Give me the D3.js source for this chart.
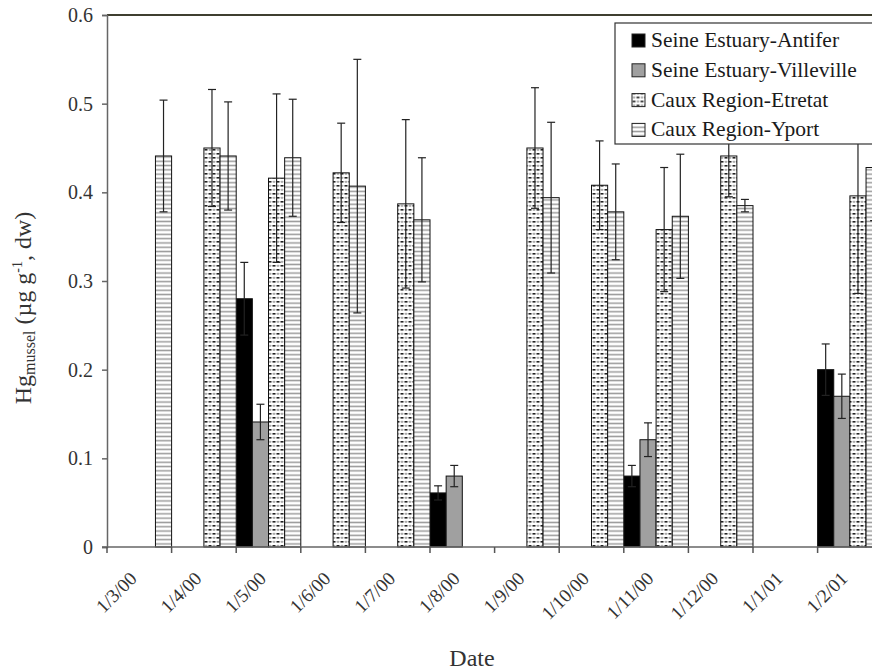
<!DOCTYPE html>
<html>
<head>
<meta charset="utf-8">
<script src="https://cdn.jsdelivr.net/npm/d3@7"></script>
<style>
  body { margin: 0; background: #fff; }
  svg { display: block; font-family: "Liberation Serif", "Times New Roman", serif; }
</style>
</head>
<body>
<div id="container"></div>
<script>
// data
let months = ["1/3/00", "1/4/00", "1/5/00", "1/6/00", "1/7/00", "1/8/00", "1/9/00", "1/10/00", "1/11/00", "1/12/00", "1/1/01", "1/2/01"];
let seriesNames = ["Seine Estuary-Antifer", "Seine Estuary-Villeville", "Caux Region-Etretat", "Caux Region-Yport"];

let antifer    = [null, null, 0.280, null, null, 0.061, null, null, 0.080, null, null, 0.200];
let antiferSd  = [null, null, 0.041, null, null, 0.008, null, null, 0.012, null, null, 0.029];
let villeville   = [null, null, 0.141, null, null, 0.080, null, null, 0.121, null, null, 0.170];
let villevilleSd = [null, null, 0.020, null, null, 0.012, null, null, 0.019, null, null, 0.025];
let etretat   = [null, 0.450, 0.416, 0.422, 0.387, null, 0.450, 0.408, 0.358, 0.441, null, 0.396];
let etretatSd = [null, 0.066, 0.095, 0.056, 0.095, null, 0.068, 0.050, 0.070, 0.046, null, 0.110];
let yport   = [0.441, 0.441, 0.439, 0.407, 0.369, null, 0.394, 0.378, 0.373, 0.385, null, 0.428];
let yportSd = [0.063, 0.061, 0.066, 0.143, 0.070, null, 0.085, 0.054, 0.070, 0.007, null, 0.060];

let yTicks = [0, 0.1, 0.2, 0.3, 0.4, 0.5, 0.6];

let w = 872;
let h = 672;
let padLeft = 107, padTop = 15, padBottom = 547;
let plotRight = padLeft + 12 * 64.6;   // the plot runs past the right edge of the picture

let viz = d3.select("#container").append("svg")
    .attr("width", w)
    .attr("height", h)
;

// patterns for the two Caux series
let defs = viz.append("defs");
let dots = defs.append("pattern")
    .attr("id", "dots")
    .attr("patternUnits", "userSpaceOnUse")
    .attr("width", 8).attr("height", 8)
;
dots.append("rect").attr("width", 8).attr("height", 8).attr("fill", "#fff");
dots.append("rect").attr("x", 0.5).attr("y", 1).attr("width", 3).attr("height", 1.6).attr("fill", "#222");
dots.append("rect").attr("x", 4.5).attr("y", 5).attr("width", 3).attr("height", 1.6).attr("fill", "#222");
dots.append("ellipse").attr("cx", 6).attr("cy", 1.8).attr("rx", 1.6).attr("ry", 1.1).attr("fill", "#aaa");
dots.append("ellipse").attr("cx", 2).attr("cy", 5.8).attr("rx", 1.6).attr("ry", 1.1).attr("fill", "#aaa");

let lines = defs.append("pattern")
    .attr("id", "hlines")
    .attr("patternUnits", "userSpaceOnUse")
    .attr("width", 8).attr("height", 4.3)
;
lines.append("rect").attr("width", 8).attr("height", 4.3).attr("fill", "#fff");
lines.append("rect").attr("y", 1.4).attr("width", 8).attr("height", 1.5).attr("fill", "#9a9a9a");

let fills = ["#000", "#a0a0a0", "url(#dots)", "url(#hlines)"];

let series = [
  {name: seriesNames[0], vals: antifer, sd: antiferSd},
  {name: seriesNames[1], vals: villeville, sd: villevilleSd},
  {name: seriesNames[2], vals: etretat, sd: etretatSd},
  {name: seriesNames[3], vals: yport, sd: yportSd}
];

// scales
let x = d3.scaleBand().domain(months).range([padLeft, plotRight]).padding(0);
let xSub = d3.scaleBand().domain(seriesNames).range([0, x.bandwidth()]).padding(0);
let y = d3.scaleLinear().domain([0, 0.6]).range([padBottom, padTop]);

// flatten to one record per bar
let bars = [];
series.forEach(function(s, si) {
  months.forEach(function(m, mi) {
    if (s.vals[mi] != null) {
      bars.push({month: m, name: s.name, si: si, v: s.vals[mi], sd: s.sd[mi]});
    }
  });
});

// top frame line
viz.append("line")
    .attr("x1", padLeft).attr("x2", w)
    .attr("y1", padTop).attr("y2", padTop)
    .attr("stroke", "#3f3f30")
    .attr("stroke-width", 2)
;

let barGroup = viz.append("g").attr("class", "bars");
barGroup.selectAll("rect").data(bars).enter()
  .append("rect")
    .attr("x", function(d) { return x(d.month) + xSub(d.name); })
    .attr("y", function(d) { return y(d.v); })
    .attr("width", xSub.bandwidth())
    .attr("height", function(d) { return y(0) - y(d.v); })
    .attr("fill", function(d) { return fills[d.si]; })
    .attr("stroke", "#111")
    .attr("stroke-width", 1)
;

// error bars, capped at both ends
let errGroup = viz.append("g").attr("class", "errors").attr("stroke", "#222").attr("stroke-width", 1.2);
let errs = errGroup.selectAll("g").data(bars).enter().append("g");
let cx = function(d) { return x(d.month) + xSub(d.name) + xSub.bandwidth() / 2; };
errs.append("line")
    .attr("x1", cx).attr("x2", cx)
    .attr("y1", function(d) { return y(d.v + d.sd); })
    .attr("y2", function(d) { return y(d.v - d.sd); })
;
errs.append("line")
    .attr("x1", function(d) { return cx(d) - 4; }).attr("x2", function(d) { return cx(d) + 4; })
    .attr("y1", function(d) { return y(d.v + d.sd); })
    .attr("y2", function(d) { return y(d.v + d.sd); })
;
errs.append("line")
    .attr("x1", function(d) { return cx(d) - 4; }).attr("x2", function(d) { return cx(d) + 4; })
    .attr("y1", function(d) { return y(d.v - d.sd); })
    .attr("y2", function(d) { return y(d.v - d.sd); })
;

// y axis
let yAxis = viz.append("g")
    .attr("transform", "translate(" + padLeft + ",0)")
    .call(d3.axisLeft(y).tickValues(yTicks).tickSize(5).tickPadding(9)
      .tickFormat(function(d) { return d === 0 ? "0" : d3.format(".1f")(d); }))
;
yAxis.selectAll("path, line").attr("stroke", "#666").attr("stroke-width", 1.5);
yAxis.selectAll("text").attr("font-size", 20).attr("fill", "#333").attr("font-family", "Liberation Serif");

// x axis: ticks between the months, labels rotated
let xAxis = viz.append("g").attr("transform", "translate(0," + padBottom + ")");
xAxis.append("line")
    .attr("x1", padLeft - 5).attr("x2", w)
    .attr("stroke", "#666").attr("stroke-width", 1.5)
;
xAxis.selectAll(".tick").data(months).enter()
  .append("line")
    .attr("class", "tick")
    .attr("x1", function(d) { return x(d); }).attr("x2", function(d) { return x(d); })
    .attr("y1", 0).attr("y2", 6)
    .attr("stroke", "#555").attr("stroke-width", 1.5)
;
xAxis.selectAll(".lbl").data(months).enter()
  .append("text")
    .attr("class", "lbl")
    .attr("transform", function(d) {
      return "translate(" + (x(d) + x.bandwidth() / 2 - 6) + ",28) rotate(-45)";
    })
    .attr("text-anchor", "end")
    .attr("dy", "0.35em")
    .attr("font-size", 19)
    .attr("fill", "#333")
    .text(function(d) { return d; })
;

// axis titles
viz.append("text")
    .attr("x", 472).attr("y", 666)
    .attr("text-anchor", "middle")
    .attr("font-size", 24)
    .attr("fill", "#333")
    .text("Date")
;
let yTitle = viz.append("text")
    .attr("transform", "translate(31,308) rotate(-90)")
    .attr("text-anchor", "middle")
    .attr("font-size", 24)
    .attr("fill", "#333")
;
yTitle.append("tspan").text("Hg");
yTitle.append("tspan").attr("font-size", 16).attr("dy", 4).text("mussel");
yTitle.append("tspan").attr("dy", -4).text(" (\u00b5g g");
yTitle.append("tspan").attr("font-size", 14).attr("dy", -9).text("-1");
yTitle.append("tspan").attr("dy", 9).text(", dw)");

// legend
let legend = viz.append("g").attr("class", "legend");
legend.append("rect")
    .attr("x", 615).attr("y", 23)
    .attr("width", 300).attr("height", 121)
    .attr("fill", "#fff")
    .attr("stroke", "#333")
    .attr("stroke-width", 1.2)
;
let items = legend.selectAll(".item").data(series).enter()
  .append("g")
    .attr("class", "item")
    .attr("transform", function(d, i) { return "translate(632," + (40 + i * 29.8) + ")"; })
;
items.append("rect")
    .attr("x", 0).attr("y", -6)
    .attr("width", 13).attr("height", 13)
    .attr("fill", function(d, i) { return fills[i]; })
    .attr("stroke", "#222")
;
items.append("text")
    .attr("x", 19).attr("y", 7)
    .attr("font-size", 21.5)
    .attr("fill", "#1a1a1a")
    .text(function(d) { return d.name; })
;
</script>
</body>
</html>
